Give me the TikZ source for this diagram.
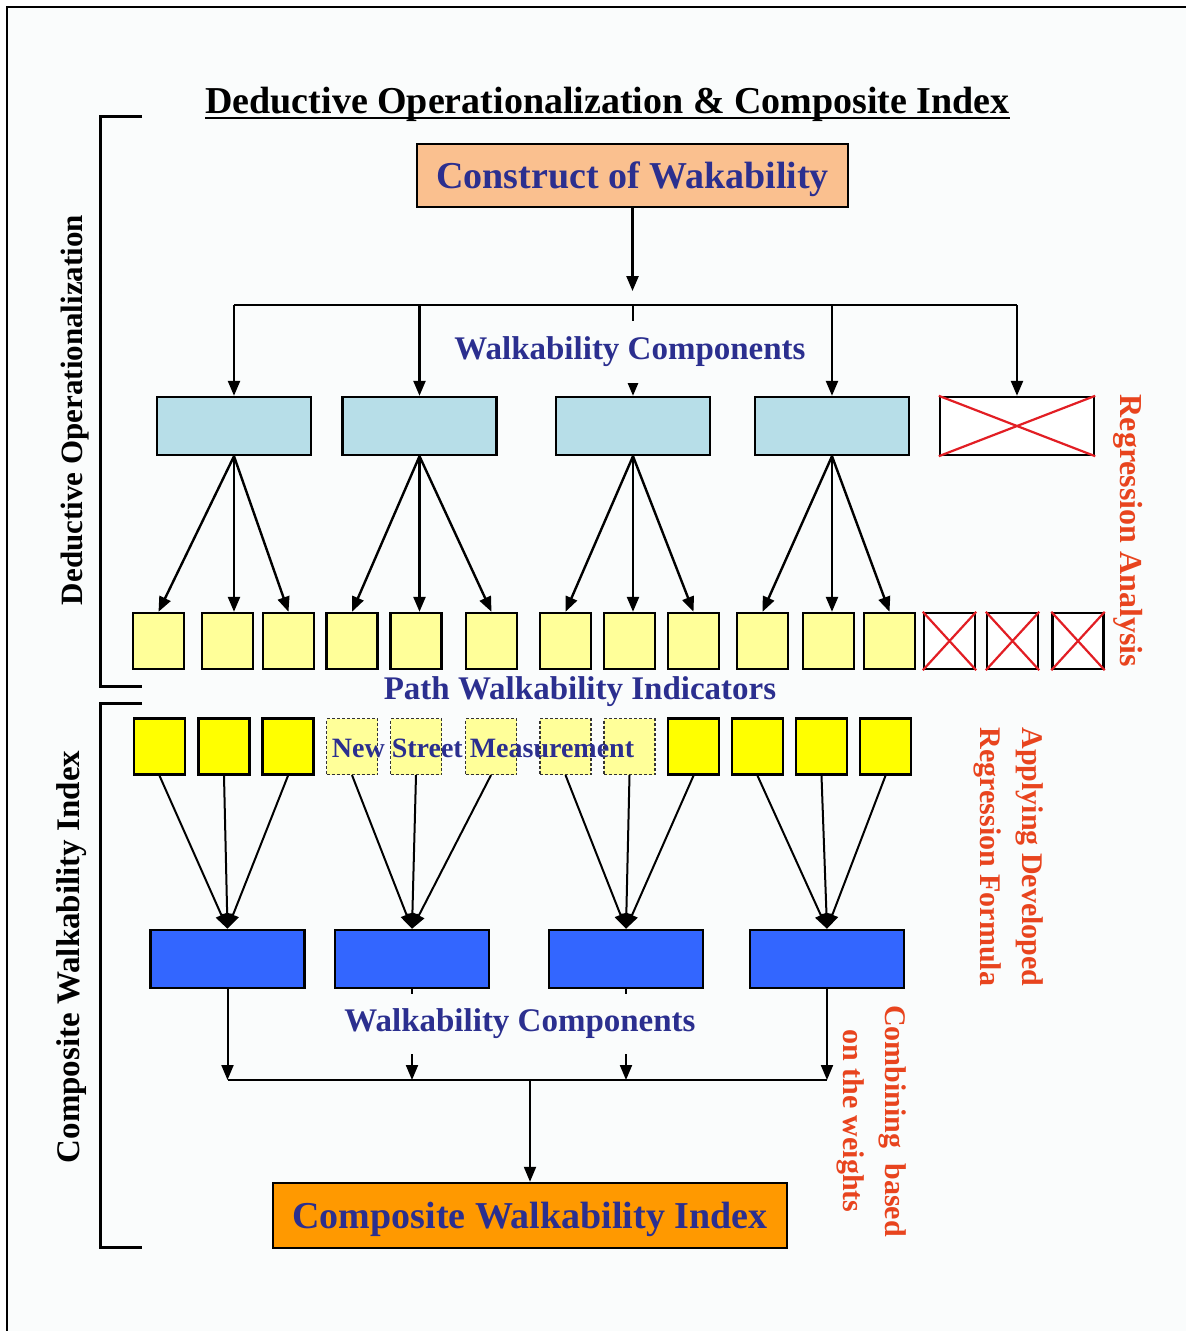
\documentclass[tikz,border=0pt]{standalone}
\usepackage{fontspec}
\setmainfont{Liberation Serif}
\usetikzlibrary{arrows.meta}
\definecolor{bg}{RGB}{250,252,252}
\definecolor{peach}{RGB}{250,192,143}
\definecolor{lblue}{RGB}{183,222,232}
\definecolor{lyel}{RGB}{255,255,153}
\definecolor{yel}{RGB}{255,255,0}
\definecolor{dblue}{RGB}{51,102,255}
\definecolor{orng}{RGB}{255,153,0}
\definecolor{navy}{RGB}{43,47,143}
\definecolor{redtxt}{RGB}{232,68,30}
\definecolor{xred}{RGB}{226,30,36}
\tikzset{
  bx/.style={draw=black, line width=2.4pt, inner sep=0pt},
  lbox/.style={bx, fill=lblue, minimum width=154pt, minimum height=58pt},
  dbox/.style={bx, fill=dblue, minimum width=154pt, minimum height=58pt},
  xbox/.style={bx, fill=white, minimum width=154pt, minimum height=58pt},
  sqa/.style={bx, fill=lyel, minimum width=51pt, minimum height=56pt},
  sqx/.style={bx, fill=white, minimum width=51pt, minimum height=56pt},
  sqb/.style={bx, fill=yel, minimum width=51pt, minimum height=56pt},
  sqd/.style={draw=black!80, line width=1.2pt, dash pattern=on 3pt off 2pt, fill=lyel, inner sep=0pt, minimum width=51pt, minimum height=56pt},
  arr/.style={line width=2.4pt, -{Triangle[length=15pt,width=12pt]}},
  arrb/.style={line width=2pt, -{Triangle[length=15pt,width=12pt]}},
  ln/.style={line width=2.4pt},
  cross/.style={xred, line width=2.2pt},
  bigtxt/.style={text=navy, font=\bfseries\fontsize{38}{40}\selectfont, text depth=0pt},
  navytxt/.style={text=navy, font=\bfseries\fontsize{33}{36}\selectfont, inner sep=0pt},
  lbl/.style={navytxt, fill=bg, inner xsep=6pt},
  sidetxt/.style={font=\bfseries\fontsize{31}{34}\selectfont, inner sep=0pt},
  redlbl/.style={text=redtxt, font=\bfseries\fontsize{30}{42}\selectfont, inner sep=0pt, align=center},
}
\begin{document}
\begin{tikzpicture}[x=1pt,y=-1pt]
\useasboundingbox (0,0) rectangle (1186,1331);
\fill[white] (0,0) rectangle (1186,1331);
\fill[bg] (7,7) rectangle (1186,1331);
\draw[line width=2.4pt] (7,1331) -- (7,7) -- (1186,7);

% title
\node[inner sep=0pt, anchor=base, font=\bfseries\fontsize{38}{40}\selectfont] (title) at (607.5,113) {Deductive Operationalization \& Composite Index};
\draw[line width=2.4pt] ([yshift=-5pt]title.base west) -- ([yshift=-5pt]title.base east);

% brackets
\draw[line width=3pt] (142,116) -- (100,116) -- (100,686) -- (142,686);
\draw[line width=3pt] (142,703) -- (100,703) -- (100,1247) -- (142,1247);
\node[sidetxt, rotate=90] (lab1) at (75,410) {Deductive Operationalization};
\node[sidetxt, rotate=90, font=\bfseries\fontsize{33}{36}\selectfont] (lab2) at (72,957) {Composite Walkability Index};

% construct
\node[bx, fill=peach, minimum width=431pt, minimum height=63pt, bigtxt] (con) at (632.5,175.5) {Construct of Wakability};

% components row
\node[lbox] (c1) at (234,426) {};
\node[lbox] (c2) at (419.5,426) {};
\node[lbox] (c3) at (633,426) {};
\node[lbox] (c4) at (832,426) {};
\node[xbox] (cx) at (1017,426) {};
\draw[cross] (cx.north west) -- (cx.south east) (cx.south west) -- (cx.north east);

\coordinate (hl) at (630,305);
\coordinate (ct) at (632.5,291);
\draw[arr] (con.south) -- (con.south |- ct);
\draw[ln] (c1.north |- hl) -- (cx.north |- hl);
\foreach \n in {c1,c2,c3,c4,cx} \draw[arr] (\n.north |- hl) -- (\n.north);

% indicator squares row 1
\foreach \x [count=\i] in {158.5,227.5,288.5,352,416,491.5,565.5,629.5,693.5,762.5,828.5,889.5}
  \node[sqa] (s\i) at (\x,641) {};
\node[sqx] (x1) at (949.5,641) {};
\node[sqx] (x2) at (1012.5,641) {};
\node[sqx] (x3) at (1078,641) {};
\foreach \n in {x1,x2,x3} \draw[cross] (\n.north west) -- (\n.south east) (\n.south west) -- (\n.north east);

\draw[arr] (c1.south) -- (s1.north);
\draw[arr] (c1.south) -- (c1.south |- s2.north);
\draw[arr] (c1.south) -- (s3.north);
\draw[arr] (c2.south) -- (s4.north);
\draw[arr] (c2.south) -- (c2.south |- s5.north);
\draw[arr] (c2.south) -- (s6.north);
\draw[arr] (c3.south) -- (s7.north);
\draw[arr] (c3.south) -- (c3.south |- s8.north);
\draw[arr] (c3.south) -- (s9.north);
\draw[arr] (c4.south) -- (s10.north);
\draw[arr] (c4.south) -- (c4.south |- s11.north);
\draw[arr] (c4.south) -- (s12.north);

\node[lbl, minimum height=62pt] (wc1) at (630,352) {Walkability Components};
\node[navytxt] (pwi) at (580,692) {Path Walkability Indicators};

% measurement squares row 2
\node[sqb] (m1) at (159.5,746.5) {};
\node[sqb] (m2) at (224,746.5) {};
\node[sqb] (m3) at (288,746.5) {};
\node[sqd] (m4) at (352,746.5) {};
\node[sqd] (m5) at (416,746.5) {};
\node[sqd] (m6) at (491,746.5) {};
\node[sqd] (m7) at (565.5,746.5) {};
\node[sqd] (m8) at (629.5,746.5) {};
\node[sqb] (m9) at (693.5,746.5) {};
\node[sqb] (m10) at (757.5,746.5) {};
\node[sqb] (m11) at (821.5,746.5) {};
\node[sqb] (m12) at (885.5,746.5) {};
\node[navytxt, font=\bfseries\fontsize{28}{30}\selectfont] (nsm) at (483,748) {New Street Measurement};

% dark blue boxes
\node[dbox] (d1) at (227.5,959) {};
\node[dbox] (d2) at (412,959) {};
\node[dbox] (d3) at (626,959) {};
\node[dbox] (d4) at (827,959) {};

\draw[arrb] (m1.south) -- (d1.north);
\draw[arrb] (m2.south) -- (d1.north);
\draw[arrb] (m3.south) -- (d1.north);
\draw[arrb] (m4.south) -- (d2.north);
\draw[arrb] (m5.south) -- (d2.north);
\draw[arrb] (m6.south) -- (d2.north);
\draw[arrb] (m7.south) -- (d3.north);
\draw[arrb] (m8.south) -- (d3.north);
\draw[arrb] (m9.south) -- (d3.north);
\draw[arrb] (m10.south) -- (d4.north);
\draw[arrb] (m11.south) -- (d4.north);
\draw[arrb] (m12.south) -- (d4.north);

% combining
\coordinate (bl) at (527,1080);
\node[bx, fill=orng, minimum width=514pt, minimum height=65pt, bigtxt] (fin) at (530,1215.5) {Composite Walkability Index};
\foreach \n in {d1,d2,d3,d4} \draw[arrb] (\n.south) -- (\n.south |- bl);
\draw[arrb, -] (d1.south |- bl) -- (d4.south |- bl);
\draw[arrb] (fin.north |- bl) -- (fin.north);
\node[lbl, minimum height=60pt] (wc2) at (520,1024) {Walkability Components};

% red labels
\node[redlbl, rotate=-90, font=\bfseries\fontsize{32}{36}\selectfont] (ra) at (1128,531) {Regression Analysis};
\node[redlbl, rotate=-90] (adr) at (1009,857) {Applying Developed\\Regression Formula};
\node[redlbl, rotate=-90] (cbw) at (871.5,1121) {Combining~ based\\on the weights};
\end{tikzpicture}
\end{document}
